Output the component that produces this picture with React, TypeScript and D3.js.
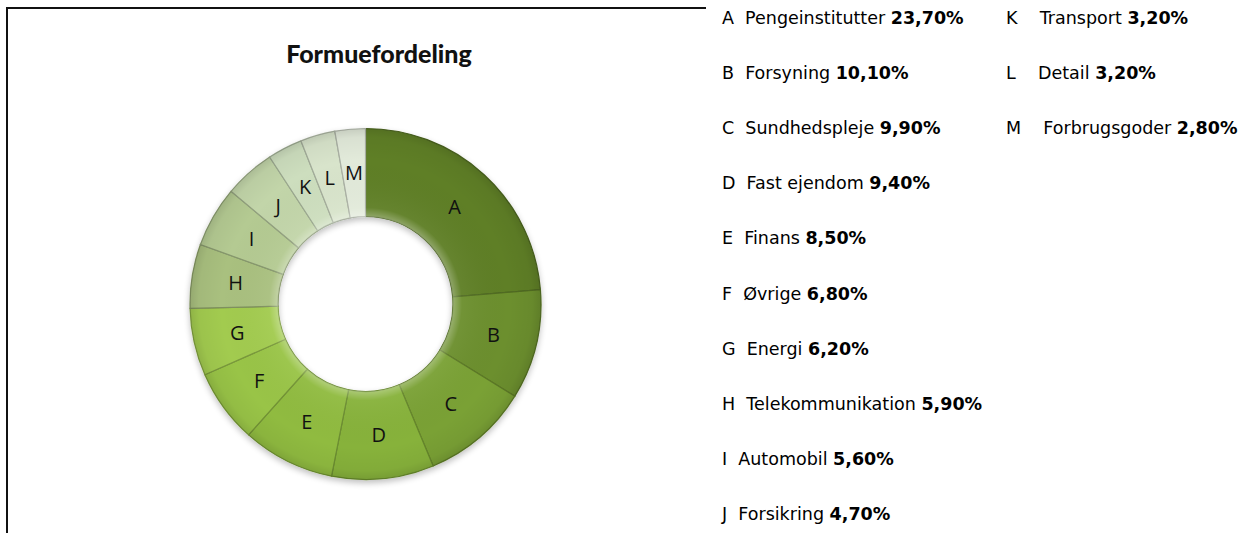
import React from "react";
import * as d3 from "d3";

const letters = ["A", "B", "C", "D", "E", "F", "G", "H", "I", "J", "K", "L", "M"];
const names = [
  "Pengeinstitutter", "Forsyning", "Sundhedspleje", "Fast ejendom", "Finans", "Øvrige",
  "Energi", "Telekommunikation", "Automobil", "Forsikring", "Transport", "Detail", "Forbrugsgoder",
];
const values = [23.7, 10.1, 9.9, 9.4, 8.5, 6.8, 6.2, 5.9, 5.6, 4.7, 3.2, 3.2, 2.8];
const valueLabels = ["23,70%", "10,10%", "9,90%", "9,40%", "8,50%", "6,80%", "6,20%", "5,90%", "5,60%", "4,70%", "3,20%", "3,20%", "2,80%"];
const colors = [
  "#5f7f27", "#6c8f2d", "#7aa134", "#87b23b", "#90bb41", "#99c447", "#a2cb50",
  "#a9c07f", "#b4ca92", "#c2d5a9", "#cddebe", "#d8e4cb", "#e2eada",
];
const title = "Formuefordeling";

const W = 1246, H = 533;
const cx = 365.5, cy = 304, rOuter = 175.5, rInner = 87.5;

export default function App() {
  const pie = d3.pie<number>().sort(null).value((d) => d)(values);
  const arc = d3.arc<d3.PieArcDatum<number>>().innerRadius(rInner).outerRadius(rOuter);
  const labelArc = d3.arc<d3.PieArcDatum<number>>().innerRadius(rInner + 2).outerRadius(rOuter - 2);
  const rowStep = 55.1;
  return (
    <svg width={W} height={H} style={{ position: "absolute", left: 0, top: 0, background: "#fff" }}>
      <defs>
        <radialGradient id="bevel" gradientUnits="userSpaceOnUse" cx={0} cy={0} r={rOuter}>
          <stop offset={rInner / rOuter} stopColor="#ffffff" stopOpacity={0.3} />
          <stop offset={(rInner + 9) / rOuter} stopColor="#ffffff" stopOpacity={0.04} />
          <stop offset={0.82} stopColor="#000000" stopOpacity={0} />
          <stop offset={0.95} stopColor="#000000" stopOpacity={0.04} />
          <stop offset={1} stopColor="#000000" stopOpacity={0.12} />
        </radialGradient>
        <filter id="shadow" x="-20%" y="-20%" width="140%" height="140%">
          <feGaussianBlur in="SourceAlpha" stdDeviation="3" />
          <feOffset dx="0" dy="3" result="b" />
          <feComponentTransfer><feFuncA type="linear" slope="0.25" /></feComponentTransfer>
          <feMerge><feMergeNode /><feMergeNode in="SourceGraphic" /></feMerge>
        </filter>
      </defs>
      <path d={`M7,${H} L7,8 L706,8`} fill="none" stroke="#111" strokeWidth={2} />
      <text x={379} y={63} textAnchor="middle" fontFamily="Lato, 'Open Sans', sans-serif" fontWeight={900} fontSize={25} fill="#111">
        {title}
      </text>
      <g transform={`translate(${cx},${cy})`} filter="url(#shadow)">
        {pie.map((d, i) => (
          <path key={"s" + i} d={arc(d) || ""} fill={colors[i]} stroke={d3.color(colors[i])!.darker(0.8).toString()} strokeWidth={1.2} />
        ))}
      </g>
      <g transform={`translate(${cx},${cy})`}>
        {pie.map((d, i) => (
          <path key={"o" + i} d={arc(d) || ""} fill="url(#bevel)" style={{ pointerEvents: "none" }} />
        ))}
      </g>
      <g transform={`translate(${cx},${cy})`}>
        {pie.map((d, i) => {
          const [x, y] = labelArc.centroid(d);
          return (
            <text key={"l" + i} x={x} y={y} dy="0.35em" textAnchor="middle" fontFamily="'Open Sans', Lato, sans-serif" fontSize={20} fill="#111">
              {letters[i]}
            </text>
          );
        })}
      </g>
      <g fontFamily="'DejaVu Sans', Verdana, sans-serif" fontSize={17.5} fill="#000">
        {letters.map((l, i) => {
          const col = i < 10 ? 0 : 1;
          const row = i < 10 ? i : i - 10;
          const x = col === 0 ? 722 : 1006;
          const y = 18 + row * rowStep + 6;
          const gap = col === 0 ? "  " : "    ";
          return (
            <text key={"lg" + i} x={x} y={y} style={{ whiteSpace: "pre" }}>
              {`${l}${gap}${names[i]} `}
              <tspan fontWeight="bold">{valueLabels[i]}</tspan>
            </text>
          );
        })}
      </g>
    </svg>
  );
}
